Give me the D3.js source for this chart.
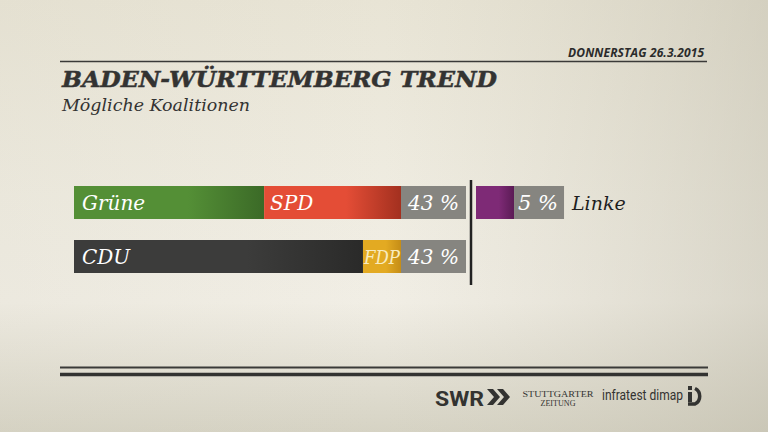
<!DOCTYPE html>
<html>
<head>
<meta charset="utf-8">
<script src="https://cdn.jsdelivr.net/npm/d3@7"></script>
<style>
  body { margin: 0; background: #ece8db; }
  svg { display: block; }
</style>
</head>
<body>
<svg id="chart" width="768" height="432"></svg>
<script>
// data
var rows = ["gruen-rot", "schwarz-gelb"];
var rowParties = [["Grüne", "SPD"], ["CDU", "FDP"]];
var rowValues = [[25, 18], [38, 5]];
var rowTotals = ["43 %", "43 %"];
var extraParty = "Linke";
var extraValue = 5;
var extraLabel = "5 %";

var colors = {
  "Grüne": ["#548f36", "#3b6a27"],
  "SPD": ["#e44d36", "#a3301f"],
  "CDU": ["#3c3c3b", "#2a2a29"],
  "FDP": ["#e3aa22", "#c58d17"],
  "Linke": ["#7e2a76", "#5b1b55"]
};

var svg = d3.select('#chart');
var defs = svg.append('defs');

// background
var bg = defs.append('linearGradient').attr('id', 'bg').attr('x1', 0).attr('y1', 0).attr('x2', 0).attr('y2', 1);
bg.append('stop').attr('offset', 0).attr('stop-color', '#e8e4d5');
bg.append('stop').attr('offset', 0.45).attr('stop-color', '#efece1');
bg.append('stop').attr('offset', 0.7).attr('stop-color', '#f1eee5');
bg.append('stop').attr('offset', 1).attr('stop-color', '#d6d3c4');
var side = defs.append('linearGradient').attr('id', 'side').attr('x1', 0).attr('y1', 0).attr('x2', 1).attr('y2', 0);
side.append('stop').attr('offset', 0).attr('stop-color', '#cfcbbb').attr('stop-opacity', 0.15);
side.append('stop').attr('offset', 0.5).attr('stop-color', '#cfcbbb').attr('stop-opacity', 0);
side.append('stop').attr('offset', 1).attr('stop-color', '#bcb8a7').attr('stop-opacity', 0.45);
svg.append('rect').attr('width', 768).attr('height', 432).attr('fill', 'url(#bg)');
svg.append('rect').attr('width', 768).attr('height', 432).attr('fill', 'url(#side)');

Object.keys(colors).forEach(function(k, i){
  var g = defs.append('linearGradient').attr('id', 'g' + i).attr('x1', 0).attr('x2', 1).attr('y1', 0).attr('y2', 0);
  g.append('stop').attr('offset', 0.6).attr('stop-color', colors[k][0]);
  g.append('stop').attr('offset', 1).attr('stop-color', colors[k][1]);
  colors[k].grad = 'url(#g' + i + ')';
});

// header
svg.append('text').attr('x', 568).attr('y', 57)
  .attr('font-family', 'Open Sans').attr('font-weight', 'bold').attr('font-style', 'italic')
  .attr('font-size', 12).attr('fill', '#2b2b2b')
  .attr('textLength', 136).attr('lengthAdjust', 'spacing')
  .text('DONNERSTAG 26.3.2015');
svg.append('line').attr('x1', 60).attr('x2', 707).attr('y1', 61.5).attr('y2', 61.5)
  .attr('stroke', '#3a3a38').attr('stroke-width', 1.6);
svg.append('text').attr('x', 62).attr('y', 87)
  .attr('font-family', 'DejaVu Serif').attr('font-weight', 'bold').attr('font-style', 'italic')
  .attr('font-size', 23).attr('fill', '#333332')
  .attr('stroke', '#333332').attr('stroke-width', 0.5)
  .attr('textLength', 435).attr('lengthAdjust', 'spacingAndGlyphs')
  .text('BADEN-WÜRTTEMBERG TREND');
svg.append('text').attr('x', 62).attr('y', 111)
  .attr('font-family', 'DejaVu Serif').attr('font-style', 'italic')
  .attr('font-size', 16).attr('fill', '#333332')
  .attr('textLength', 188).attr('lengthAdjust', 'spacingAndGlyphs')
  .text('Mögliche Koalitionen');

// scales
var x = d3.scaleLinear().domain([0, 43]).range([74, 401]);
var y = d3.scalePoint().domain(rows).range([186, 240]);
var barH = 33;
var boxW = 65;

rows.forEach(function(r, i){
  var start = 0;
  var g = svg.append('g');
  rowParties[i].forEach(function(p, j){
    var v = rowValues[i][j];
    g.append('rect').attr('x', x(start)).attr('y', y(r))
      .attr('width', x(start + v) - x(start)).attr('height', barH)
      .attr('fill', colors[p].grad);
    var small = p === 'FDP';
    g.append('text').attr('x', x(start) + (small ? 1 : (j === 0 ? 8 : 6))).attr('y', y(r) + 24)
      .attr('font-family', 'DejaVu Serif').attr('font-style', 'italic')
      .attr('font-size', small ? 19 : 20)
      .attr('fill', small ? '#f8ecc0' : '#ffffff')
      .attr('textLength', small ? 36 : null).attr('lengthAdjust', 'spacingAndGlyphs')
      .text(p);
    start += v;
  });
  g.append('rect').attr('x', x(start)).attr('y', y(r)).attr('width', boxW).attr('height', barH)
    .attr('fill', '#868580');
  g.append('text').attr('x', x(start) + boxW - 7).attr('y', y(r) + 24).attr('text-anchor', 'end')
    .attr('font-family', 'DejaVu Serif').attr('font-style', 'italic')
    .attr('font-size', 21).attr('fill', '#ffffff')
    .attr('textLength', 51).attr('lengthAdjust', 'spacingAndGlyphs')
    .text(rowTotals[i]);
});

// divider
svg.append('line').attr('x1', 471).attr('x2', 471).attr('y1', 180).attr('y2', 285)
  .attr('stroke', '#222').attr('stroke-width', 2.5);

// Linke
var x2 = d3.scaleLinear().domain([0, 43]).range([476, 476 + 327]);
svg.append('rect').attr('x', x2(0)).attr('y', y(rows[0])).attr('width', x2(extraValue) - x2(0)).attr('height', barH)
  .attr('fill', colors[extraParty].grad);
svg.append('rect').attr('x', x2(extraValue)).attr('y', y(rows[0])).attr('width', 50).attr('height', barH)
  .attr('fill', '#868580');
svg.append('text').attr('x', x2(extraValue) + 44).attr('y', y(rows[0]) + 24).attr('text-anchor', 'end')
  .attr('font-family', 'DejaVu Serif').attr('font-style', 'italic')
  .attr('font-size', 21).attr('fill', '#ffffff').text(extraLabel);
svg.append('text').attr('x', 572).attr('y', y(rows[0]) + 24)
  .attr('font-family', 'DejaVu Serif').attr('font-style', 'italic')
  .attr('font-size', 19).attr('fill', '#1e1e1e').text(extraParty);

// footer rules
svg.append('line').attr('x1', 60).attr('x2', 708).attr('y1', 367.5).attr('y2', 367.5)
  .attr('stroke', '#3a3a38').attr('stroke-width', 2);
svg.append('line').attr('x1', 60).attr('x2', 708).attr('y1', 374.5).attr('y2', 374.5)
  .attr('stroke', '#333331').attr('stroke-width', 3.5);

// logos
var foot = svg.append('g').attr('fill', '#333331');
foot.append('text').attr('x', 435).attr('y', 406)
  .attr('font-family', 'Liberation Sans Narrow, Roboto').attr('font-weight', 'bold').attr('font-size', 21)
  .attr('textLength', 49).attr('lengthAdjust', 'spacingAndGlyphs').text('SWR');
[487, 497].forEach(function(cx){
  foot.append('path').attr('d', 'M' + cx + ',389 l6,0 l7,8 l-7,8 l-6,0 l7,-8 z');
});
foot.append('text').attr('x', 558).attr('y', 397).attr('text-anchor', 'middle')
  .attr('font-family', 'Liberation Serif').attr('font-size', 8)
  .attr('textLength', 71).attr('lengthAdjust', 'spacingAndGlyphs').text('STUTTGARTER');
foot.append('text').attr('x', 558).attr('y', 406).attr('text-anchor', 'middle')
  .attr('font-family', 'Liberation Serif').attr('font-size', 8)
  .attr('textLength', 35).attr('lengthAdjust', 'spacingAndGlyphs').text('ZEITUNG');
foot.append('text').attr('x', 602).attr('y', 400)
  .attr('font-family', 'Liberation Sans Narrow, Roboto').attr('font-size', 15)
  .attr('textLength', 81).attr('lengthAdjust', 'spacingAndGlyphs').text('infratest dimap');
foot.append('rect').attr('x', 688).attr('y', 386).attr('width', 4).attr('height', 4);
foot.append('rect').attr('x', 688).attr('y', 392).attr('width', 4).attr('height', 10);
foot.append('path').attr('fill', 'none').attr('stroke', '#333331').attr('stroke-width', 3.5)
  .attr('d', 'M695,388.5 A8,8.5 0 0 1 695,404 L688,404');
</script>
</body>
</html>
